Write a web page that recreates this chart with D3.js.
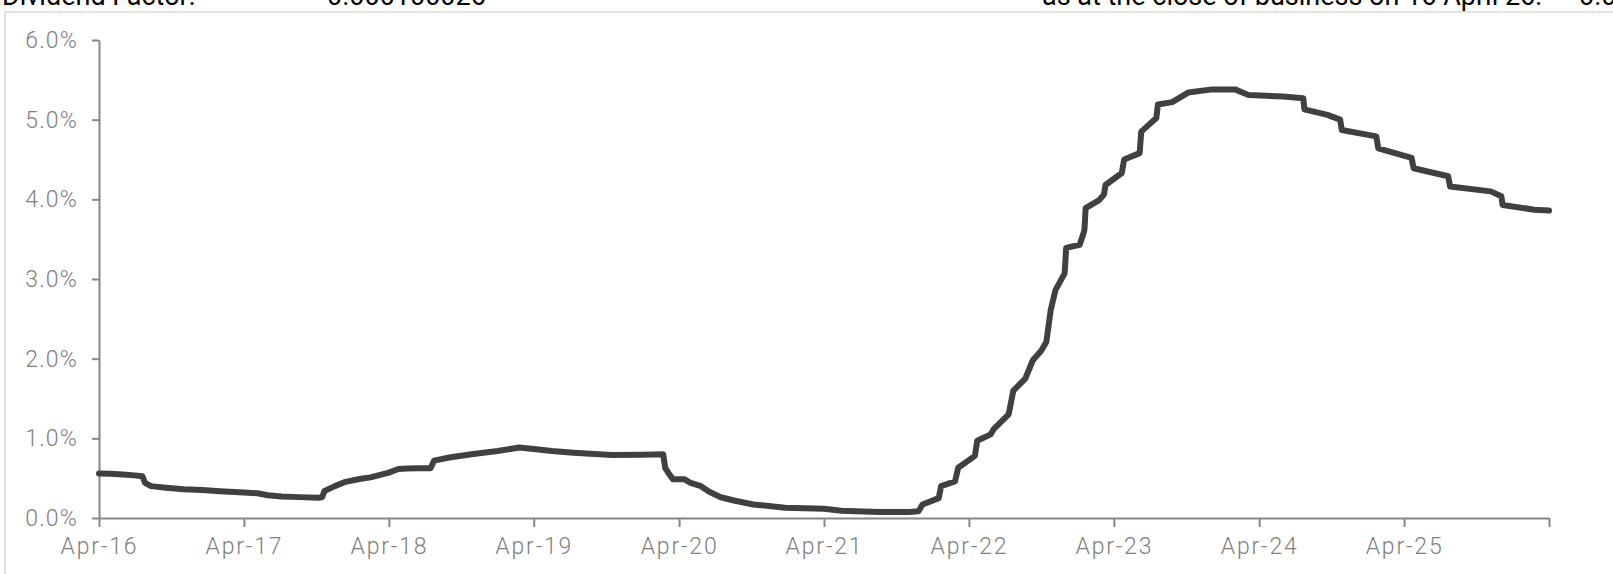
<!DOCTYPE html>
<html>
<head>
<meta charset="utf-8">
<script src="https://cdnjs.cloudflare.com/ajax/libs/d3/7.8.5/d3.min.js"></script>
<style>
  html, body { margin: 0; padding: 0; overflow: hidden; background: #fff; }
  svg { display: block; }
</style>
</head>
<body>
<script>
// header text (cut off at the top of the picture)
var headerLeft = ["Dividend Factor:", "0.000100026"];
var headerRight = ["as at the close of business on 16 April 26:", "0.0386"];

// dates and rates (%)
var dates = [
  "2016-04-16", "2016-05-15", "2016-06-15", "2016-07-15", "2016-08-03", "2016-08-10", "2016-08-25",
  "2016-10-01", "2016-11-15", "2017-01-01", "2017-02-15", "2017-04-16", "2017-05-20", "2017-06-15",
  "2017-07-20", "2017-09-01", "2017-10-20", "2017-10-30", "2017-11-05", "2017-12-01", "2017-12-25",
  "2018-02-01", "2018-03-01", "2018-04-16", "2018-05-10", "2018-06-01", "2018-07-01", "2018-07-30",
  "2018-08-08", "2018-09-15", "2018-11-10", "2019-01-15", "2019-03-10", "2019-04-16", "2019-06-01",
  "2019-07-25", "2019-10-30", "2020-01-15", "2020-03-07", "2020-03-12", "2020-03-22", "2020-04-01",
  "2020-04-30", "2020-05-15", "2020-06-10", "2020-07-01", "2020-07-30", "2020-09-01", "2020-10-20",
  "2021-01-08", "2021-04-16", "2021-05-30", "2021-09-01", "2021-11-15", "2021-12-10", "2021-12-20",
  "2022-01-30", "2022-02-05", "2022-03-12", "2022-03-20", "2022-05-01", "2022-05-07", "2022-06-10",
  "2022-06-18", "2022-07-25", "2022-08-06", "2022-09-05", "2022-09-24", "2022-10-15", "2022-10-28",
  "2022-11-08", "2022-11-20", "2022-12-13", "2022-12-17", "2023-01-20", "2023-01-30", "2023-02-01",
  "2023-02-04", "2023-03-10", "2023-03-22", "2023-03-26", "2023-05-06", "2023-05-12", "2023-06-20",
  "2023-06-24", "2023-08-01", "2023-08-05", "2023-09-10", "2023-10-20", "2023-12-20", "2024-02-15",
  "2024-03-20", "2024-06-15", "2024-08-05", "2024-08-08", "2024-10-05", "2024-11-06", "2024-11-10",
  "2025-02-05", "2025-02-10", "2025-05-05", "2025-05-10", "2025-08-05", "2025-08-10", "2025-11-20",
  "2025-12-17", "2025-12-20", "2026-03-10", "2026-04-16"
];
var rates = [
  0.56, 0.555, 0.545, 0.535, 0.525, 0.44, 0.40,
  0.38, 0.36, 0.35, 0.335, 0.32, 0.31, 0.285,
  0.27, 0.262, 0.255, 0.26, 0.34, 0.40, 0.45,
  0.49, 0.51, 0.57, 0.615, 0.62, 0.625, 0.625,
  0.72, 0.76, 0.80, 0.84, 0.885, 0.865, 0.84,
  0.82, 0.79, 0.795, 0.80, 0.63, 0.55, 0.485,
  0.485, 0.44, 0.40, 0.33, 0.26, 0.22, 0.17,
  0.13, 0.115, 0.09, 0.075, 0.075, 0.085, 0.17,
  0.25, 0.40, 0.46, 0.63, 0.78, 0.97, 1.05,
  1.12, 1.30, 1.60, 1.75, 1.98, 2.10, 2.21,
  2.61, 2.86, 3.07, 3.39, 3.43, 3.58, 3.62,
  3.89, 3.99, 4.06, 4.18, 4.33, 4.50, 4.58,
  4.85, 5.02, 5.19, 5.22, 5.34, 5.38, 5.38,
  5.31, 5.29, 5.27, 5.13, 5.06, 5.00, 4.87,
  4.79, 4.64, 4.52, 4.39, 4.29, 4.16, 4.10,
  4.04, 3.93, 3.87, 3.86
];

var xTickDates = ["2016-04-16", "2017-04-16", "2018-04-16", "2019-04-16", "2020-04-16", "2021-04-16",
                  "2022-04-16", "2023-04-16", "2024-04-16", "2025-04-16", "2026-04-16"];
var xTickLabels = ["Apr-16", "Apr-17", "Apr-18", "Apr-19", "Apr-20", "Apr-21",
                   "Apr-22", "Apr-23", "Apr-24", "Apr-25", ""];
var yTicks = [0, 1, 2, 3, 4, 5, 6];

var width = 1613, height = 574;
var parse = d3.timeParse("%Y-%m-%d");

var svg = d3.select("body").append("svg")
    .attr("width", width)
    .attr("height", height);

// frame of the chart area
svg.append("rect")
    .attr("x", 5).attr("y", 12)
    .attr("width", width + 20).attr("height", height + 20)
    .attr("fill", "none")
    .attr("stroke", "#d9d9d9")
    .attr("stroke-width", 1.5);

// header lines, only their bottom shows
var head = svg.append("g")
    .style("font-family", "Roboto, sans-serif")
    .style("font-size", "27px")
    .style("fill", "#000");
head.append("text").attr("x", 2).attr("y", 5).text(headerLeft[0]);
head.append("text").attr("x", 327).attr("y", 5).text(headerLeft[1]);
head.append("text").attr("x", 1042).attr("y", 5).text(headerRight[0]);
head.append("text").attr("x", 1579).attr("y", 5).text(headerRight[1]);

var x = d3.scaleTime()
    .domain([parse(xTickDates[0]), parse(xTickDates[xTickDates.length - 1])])
    .range([99, 1549]);

var y = d3.scaleLinear()
    .domain([0, 6])
    .range([518, 40]);

var yAxis = d3.axisLeft(y)
    .tickValues(yTicks)
    .tickFormat(function (d) { return d.toFixed(1) + "%"; })
    .tickSize(7)
    .tickSizeOuter(0)
    .tickPadding(14);

var xAxis = d3.axisBottom(x)
    .tickValues(xTickDates.map(parse))
    .tickFormat(function (d, i) { return xTickLabels[i]; })
    .tickSize(9)
    .tickSizeOuter(0)
    .tickPadding(11);

var gy = svg.append("g")
    .attr("transform", "translate(99,0)")
    .call(yAxis);

var gx = svg.append("g")
    .attr("transform", "translate(0,518)")
    .call(xAxis);

[gx, gy].forEach(function (g) {
    g.select(".domain").attr("stroke", "#868686").attr("stroke-width", 2);
    g.selectAll(".tick line").attr("stroke", "#868686").attr("stroke-width", 2);
    g.selectAll(".tick text")
        .style("font-family", "Roboto, sans-serif")
        .style("font-weight", 300)
        .style("font-size", "23px")
        .style("fill", "#7f7f7f");
});
gx.selectAll(".tick text").style("letter-spacing", "1.8px");
gy.selectAll(".tick text").style("letter-spacing", "1.2px");

var series = dates.map(function (d, i) {
    return { date: parse(d), value: rates[i] };
});

var line = d3.line()
    .x(function (d) { return x(d.date); })
    .y(function (d) { return y(d.value); });

svg.append("path")
    .datum(series)
    .attr("d", line)
    .attr("fill", "none")
    .attr("stroke", "#404040")
    .attr("stroke-width", 6)
    .attr("stroke-linejoin", "round")
    .attr("stroke-linecap", "round");
</script>
</body>
</html>
